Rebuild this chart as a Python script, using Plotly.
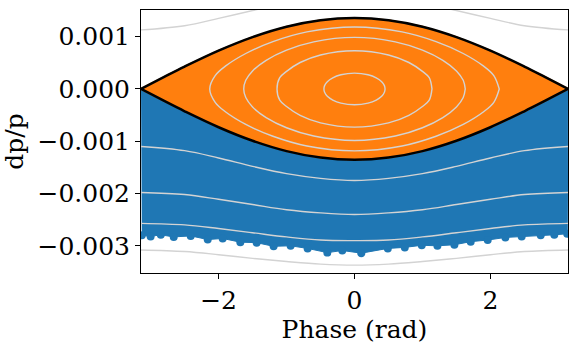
import plotly.graph_objects as go

# separatrix, upper branch (lower branch is its mirror)
phase_sep = [-3.1416, -2.8, -2.5, -2.0, -1.5, -1.0, -0.5, 0.0, 0.5, 1.0, 1.5, 2.0, 2.5, 2.8, 3.1416]
dp_sep = [0.0, 0.00023, 0.000427, 0.000732, 0.000991, 0.001189, 0.001313, 0.001355,
          0.001313, 0.001189, 0.000991, 0.000732, 0.000427, 0.00023, 0.0]

# lower edge of the blue particle band
phase_edge = [-3.13, -3.0, -2.85, -2.66, -2.41, -2.16, -1.94, -1.68, -1.44, -1.19, -0.94, -0.69, -0.40, -0.18,
              0.10, 0.49, 0.74, 0.99, 1.22, 1.47, 1.71, 1.96, 2.22, 2.46, 2.74, 2.94, 3.13]
dp_edge = [-0.00280, -0.00282, -0.00279, -0.00283, -0.00281, -0.00288, -0.00286, -0.00293, -0.00294,
           -0.00301, -0.00300, -0.00305, -0.00313, -0.00309, -0.00314, -0.00305, -0.00303, -0.00299,
           -0.00300, -0.00298, -0.00292, -0.00289, -0.00284, -0.00282, -0.00280, -0.00279, -0.00277]

# open contour lines outside the bucket
phase_ctr = [-3.1416, -2.5, -2.0, -1.5, -1.0, -0.5, 0.0, 0.5, 1.0, 1.5, 2.0, 2.5, 3.1416]
dp_ctr_top = [0.00113, 0.00121, 0.00135, 0.00150, 0.00164, 0.00173, 0.00177,
              0.00173, 0.00164, 0.00150, 0.00135, 0.00121, 0.00113]
dp_ctr_1 = [-0.00110, -0.00118, -0.00132, -0.00148, -0.00162, -0.00171, -0.00175,
            -0.00171, -0.00162, -0.00148, -0.00132, -0.00118, -0.00110]
dp_ctr_2 = [-0.00198, -0.00202, -0.00211, -0.00221, -0.00231, -0.00237, -0.00240,
            -0.00237, -0.00231, -0.00221, -0.00211, -0.00202, -0.00198]
dp_ctr_3 = [-0.00257, -0.00260, -0.00267, -0.00275, -0.00283, -0.00289, -0.00290,
            -0.00289, -0.00283, -0.00275, -0.00267, -0.00260, -0.00257]
dp_ctr_4 = [-0.00308, -0.00311, -0.00317, -0.00324, -0.00330, -0.00335, -0.00337,
            -0.00335, -0.00330, -0.00324, -0.00317, -0.00311, -0.00308]

# closed contours inside the bucket, upper halves
phase_ell1 = [-0.45, -0.44, -0.40, -0.32, -0.20, 0.0, 0.20, 0.32, 0.40, 0.44, 0.45]
dp_ell1 = [0.0, 0.000064, 0.000139, 0.000212, 0.000271, 0.000303, 0.000271, 0.000212, 0.000139, 0.000064, 0.0]
phase_ell2 = [-1.14, -1.10, -1.00, -0.80, -0.50, 0.0, 0.50, 0.80, 1.00, 1.10, 1.14]
dp_ell2 = [0.0, 0.000215, 0.000336, 0.000506, 0.000650, 0.000731, 0.000650, 0.000506, 0.000336, 0.000215, 0.0]
phase_ell3 = [-1.63, -1.60, -1.50, -1.30, -1.00, -0.60, 0.0, 0.60, 1.00, 1.30, 1.50, 1.60, 1.63]
dp_ell3 = [0.0, 0.000165, 0.000345, 0.000548, 0.000742, 0.000901, 0.000986,
           0.000901, 0.000742, 0.000548, 0.000345, 0.000165, 0.0]
phase_ell4 = [-2.13, -2.05, -1.90, -1.60, -1.20, -0.70, 0.0, 0.70, 1.20, 1.60, 1.90, 2.05, 2.13]
dp_ell4 = [0.0, 0.000255, 0.000436, 0.000678, 0.000905, 0.001091, 0.001185,
           0.001091, 0.000905, 0.000678, 0.000436, 0.000255, 0.0]

y_ticks = [0.001, 0.0, -0.001, -0.002, -0.003]
y_tick_text = ["0.001", "0.000", "\u22120.001", "\u22120.002", "\u22120.003"]
x_ticks = [-2, 0, 2]
x_tick_text = ["\u22122", "0", "2"]

BLUE = "#1f77b4"
ORANGE = "#ff7f0e"
GREY = "#d3d3d3"
FONT = "DejaVu Serif"


def closed(phase, dp):
    """Upper half plus its mirrored lower half, as one loop."""
    xs = list(phase) + list(reversed(phase))
    ys = list(dp) + [-v for v in reversed(dp)]
    return xs, ys


fig = go.Figure()

# blue band: from the lower separatrix down to the ragged edge
blue_x = list(phase_sep) + list(reversed(phase_edge))
blue_y = [-v for v in dp_sep] + list(reversed(dp_edge))
fig.add_trace(go.Scatter(x=blue_x, y=blue_y, mode="lines", fill="toself", fillcolor=BLUE,
                         line=dict(color=BLUE, width=1)))
fig.add_trace(go.Scatter(x=phase_edge, y=dp_edge, mode="markers",
                         marker=dict(color=BLUE, size=8, line=dict(width=0))))

# orange bucket
sx, sy = closed(phase_sep, dp_sep)
fig.add_trace(go.Scatter(x=sx, y=sy, mode="lines", fill="toself", fillcolor=ORANGE,
                         line=dict(color=ORANGE, width=2)))

# grey Hamiltonian contours
for dp in [dp_ctr_top, dp_ctr_1, dp_ctr_2, dp_ctr_3, dp_ctr_4]:
    fig.add_trace(go.Scatter(x=phase_ctr, y=dp, mode="lines", line_shape="spline",
                             line=dict(color=GREY, width=1.4)))
for ph, dp in [(phase_ell1, dp_ell1), (phase_ell2, dp_ell2), (phase_ell3, dp_ell3), (phase_ell4, dp_ell4)]:
    ex, ey = closed(ph, dp)
    fig.add_trace(go.Scatter(x=ex, y=ey, mode="lines", line_shape="spline",
                             line=dict(color=GREY, width=1.4)))

# black separatrix
for sign in [1, -1]:
    fig.add_trace(go.Scatter(x=phase_sep, y=[sign * v for v in dp_sep], mode="lines",
                             line_shape="spline", line=dict(color="black", width=2.5)))

axis_style = dict(showgrid=False, zeroline=False, showline=True, linecolor="black", linewidth=1,
                  mirror=True, ticks="outside", ticklen=5, tickcolor="black", tickwidth=1,
                  automargin=False, tickfont=dict(family=FONT, size=25, color="black"))

fig.update_layout(
    width=578, height=344,
    margin=dict(l=141, r=10, t=10, b=71, pad=0),
    paper_bgcolor="white", plot_bgcolor="white",
    showlegend=False,
    xaxis=dict(range=[-3.1416, 3.1416], tickvals=x_ticks, ticktext=x_tick_text,
               title=dict(text="Phase (rad)", font=dict(family=FONT, size=25, color="black"), standoff=2),
               **axis_style),
    yaxis=dict(range=[-0.00352, 0.00151], tickvals=y_ticks, ticktext=y_tick_text,
               title=dict(text="dp/p", font=dict(family=FONT, size=25, color="black"), standoff=6),
               **axis_style),
)

# drop the page's default body margin so the figure sits at the window's corner
fig.write_html("out.html", config={"displayModeBar": False},
               post_script="document.body.style.margin = '0';")
